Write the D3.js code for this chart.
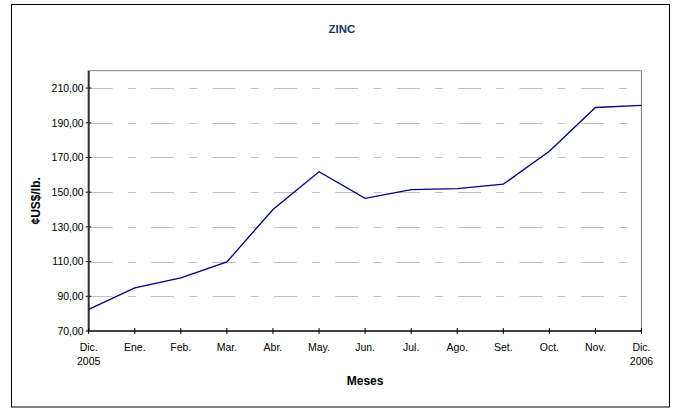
<!DOCTYPE html>
<html><head><meta charset="utf-8">
<script src="https://cdn.jsdelivr.net/npm/d3@7"></script>
<style>body{margin:0;background:#fff}svg{display:block;font-family:"Liberation Sans",Arial,sans-serif}</style>
</head><body>
<svg id="c" width="675" height="408"></svg>
<script>
const months = ["Dic.|2005","Ene.","Feb.","Mar.","Abr.","May.","Jun.","Jul.","Ago.","Set.","Oct.","Nov.","Dic.|2006"];
const values = [82.5, 94.8, 100.6, 109.8, 140.0, 161.8, 146.4, 151.5, 152.0, 154.6, 173.6, 198.8, 200.0];
const yTicks = [70, 90, 110, 130, 150, 170, 190, 210];

const svg = d3.select("#c");
const L = 88.7, R = 641.5, T = 70.7, B = 331;
const x = d3.scalePoint().domain(d3.range(months.length)).range([L, R]);
const y = d3.scaleLinear().domain([70, 220]).range([B, T]);

svg.append("rect").attr("x",11.5).attr("y",4.5).attr("width",658).attr("height",402.5)
  .attr("fill","#fff").attr("stroke","#000").attr("stroke-width",1);

svg.append("text").attr("x",342).attr("y",33).attr("text-anchor","middle")
  .attr("font-weight","bold").attr("font-size",11.5).attr("fill","#17375e").text("ZINC");

// gridlines
svg.append("g").selectAll("line").data(yTicks.filter(d=>d>70)).join("line")
  .attr("x1",L+1).attr("x2",R).attr("y1",d=>Math.round(y(d))+0.5).attr("y2",d=>Math.round(y(d))+0.5)
  .attr("stroke","#c0c0c0").attr("stroke-width",1)
  .attr("stroke-dasharray","23 15.2 8 15.2");

// plot top/right border
svg.append("path").attr("d",`M${L},${T}H${R}V${B}`).attr("fill","none").attr("stroke","#808080").attr("stroke-width",1);

// y axis
const yAxis = svg.append("g").attr("transform",`translate(${L},0)`)
  .call(d3.axisLeft(y).tickValues(yTicks).tickSize(0).tickPadding(5).tickFormat(d=>d3.format(".2f")(d).replace(".",",")));
yAxis.select(".domain").remove();
yAxis.selectAll("text").attr("font-size",10.5).attr("fill","#000").attr("font-family","Liberation Sans, Arial, sans-serif");
svg.append("g").selectAll("line").data(yTicks).join("line")
  .attr("x1",L-3).attr("x2",L+2.5).attr("y1",d=>y(d)).attr("y2",d=>y(d)).attr("stroke","#000").attr("stroke-width",1);
svg.append("line").attr("x1",L).attr("x2",L).attr("y1",T).attr("y2",B+1).attr("stroke","#303030").attr("stroke-width",2);

// x axis
svg.append("line").attr("x1",L-1).attr("x2",R).attr("y1",B).attr("y2",B).attr("stroke","#404040").attr("stroke-width",2);
svg.append("g").selectAll("line").data(d3.range(months.length)).join("line")
  .attr("x1",d=>x(d)).attr("x2",d=>x(d)).attr("y1",B-3).attr("y2",B+3).attr("stroke","#000").attr("stroke-width",1);
const xl = svg.append("g").selectAll("text").data(months).join("text")
  .attr("x",(d,i)=>x(i)).attr("y",351).attr("text-anchor","middle").attr("font-size",10.5);
xl.each(function(d){
  const parts = d.split("|");
  const t = d3.select(this);
  parts.forEach((p,j)=>t.append("tspan").attr("x",t.attr("x")).attr("dy",j?14:0).text(p));
});

// axis titles
svg.append("text").attr("x",(L+R)/2).attr("y",385).attr("text-anchor","middle")
  .attr("font-weight","bold").attr("font-size",12).text("Meses");
svg.append("text").attr("transform",`translate(40,${(T+B)/2}) rotate(-90)`).attr("text-anchor","middle")
  .attr("font-weight","bold").attr("font-size",12).text("¢US$/lb.");

// line
svg.append("path").datum(values)
  .attr("d",d3.line().x((d,i)=>x(i)).y(d=>y(d)))
  .attr("fill","none").attr("stroke","#000080").attr("stroke-width",1.3);
</script>
</body></html>
